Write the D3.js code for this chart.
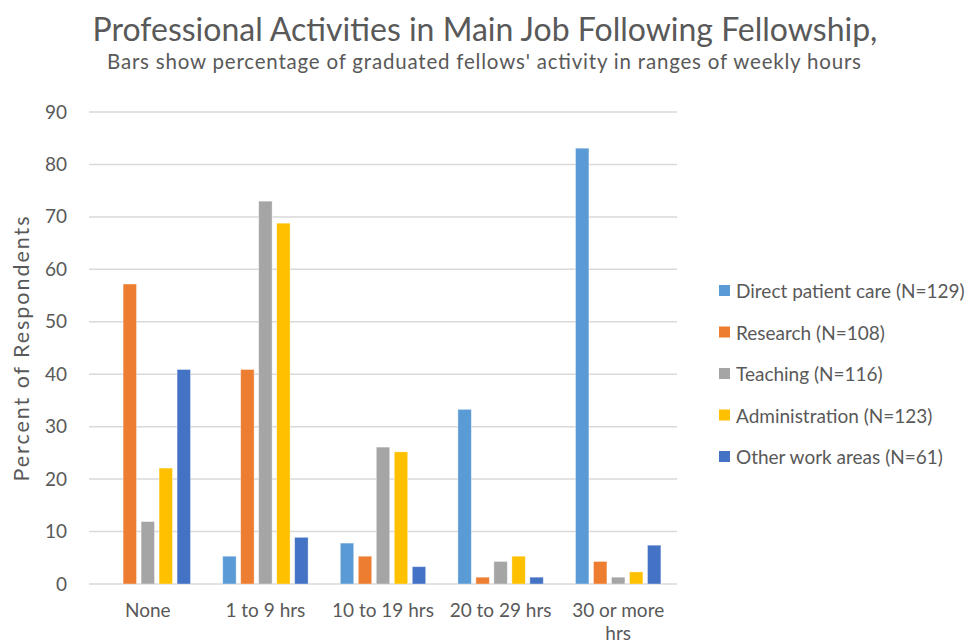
<!DOCTYPE html>
<html>
<head>
<meta charset="utf-8">
<script src="https://cdn.jsdelivr.net/npm/d3@7"></script>
<style>
  html, body { margin: 0; padding: 0; background: #fff; }
  svg { display: block; font-family: Lato, "Open Sans", sans-serif; }
</style>
</head>
<body>
<svg id="chart" width="972" height="644"></svg>
<script>
// Weekly-hour ranges along the x axis
const categories = ["None", "1 to 9 hrs", "10 to 19 hrs", "20 to 29 hrs", "30 or more hrs"];

// Series names, as shown in the legend
const seriesNames = [
  "Direct patient care (N=129)",
  "Research (N=108)",
  "Teaching (N=116)",
  "Administration (N=123)",
  "Other work areas (N=61)"
];

// Percent of respondents per hour range, one array per activity
const directPatientCare = [0, 5.3, 7.8, 33.3, 83.1];
const research          = [57.2, 40.9, 5.3, 1.3, 4.3];
const teaching          = [11.9, 73.0, 26.1, 4.3, 1.3];
const administration    = [22.1, 68.8, 25.2, 5.3, 2.3];
const otherWorkAreas    = [40.9, 8.9, 3.3, 1.3, 7.4];

const yTicks = [0, 10, 20, 30, 40, 50, 60, 70, 80, 90];

const seriesValues = [directPatientCare, research, teaching, administration, otherWorkAreas];
const colors = ["#5B9BD5", "#ED7D31", "#A5A5A5", "#FFC000", "#4472C4"];

const svg = d3.select("#chart");
const textColor = "#595959";

// Plot area
const plotLeft = 89, plotRight = 677, plotTop = 112, plotBottom = 584;

const x0 = d3.scaleBand().domain(categories).range([plotLeft, plotRight])
  .paddingInner(0.274).paddingOuter(0.137);
const x1 = d3.scaleBand().domain(d3.range(seriesNames.length)).range([0, x0.bandwidth()])
  .paddingInner(0.255).paddingOuter(0);
const y = d3.scaleLinear().domain([0, 90]).range([plotBottom, plotTop]);

// Title and subtitle
svg.append("text")
  .attr("x", 485).attr("y", 41)
  .attr("text-anchor", "middle")
  .attr("font-size", 32)
  .attr("fill", textColor)
  .text("Professional Activities in Main Job Following Fellowship,");
svg.append("text")
  .attr("x", 484).attr("y", 69)
  .attr("text-anchor", "middle")
  .attr("font-size", 20.5)
  .attr("textLength", 754)
  .attr("lengthAdjust", "spacing")
  .attr("fill", textColor)
  .text("Bars show percentage of graduated fellows' activity in ranges of weekly hours");

// Horizontal gridlines
svg.append("g")
  .selectAll("line")
  .data(yTicks)
  .join("line")
  .attr("x1", plotLeft).attr("x2", plotRight)
  .attr("y1", d => y(d)).attr("y2", d => y(d))
  .attr("stroke", "#D9D9D9")
  .attr("stroke-width", 1.5);

// Y axis tick labels
const yAxis = d3.axisLeft(y).tickValues(yTicks).tickSize(0).tickPadding(0);
const yg = svg.append("g").attr("transform", `translate(${plotLeft - 22},0)`).call(yAxis);
yg.select(".domain").remove();
yg.selectAll("text")
  .attr("font-size", 19)
  .attr("font-family", "Lato, 'Open Sans', sans-serif")
  .attr("fill", textColor);

// Y axis title
svg.append("text")
  .attr("transform", `translate(29,349) rotate(-90)`)
  .attr("text-anchor", "middle")
  .attr("font-size", 21.5)
  .attr("textLength", 265)
  .attr("lengthAdjust", "spacing")
  .attr("fill", textColor)
  .text("Percent of Respondents");

// Bars grouped by hour range
const groups = svg.append("g")
  .selectAll("g")
  .data(categories)
  .join("g")
  .attr("transform", d => `translate(${x0(d)},0)`);

groups.selectAll("rect")
  .data((c, ci) => seriesValues.map((vals, si) => ({ si, v: vals[ci] })))
  .join("rect")
  .attr("x", d => x1(d.si))
  .attr("width", x1.bandwidth())
  .attr("y", d => y(d.v))
  .attr("height", d => y(0) - y(d.v))
  .attr("fill", d => colors[d.si])
  .attr("stroke", "#ffffff")
  .attr("stroke-opacity", 0.45)
  .attr("stroke-width", 0.8);

// X axis category labels (long label wraps onto two lines)
const xLabelLines = { "30 or more hrs": ["30 or more", "hrs"] };
const xl = svg.append("g")
  .selectAll("text")
  .data(categories)
  .join("text")
  .attr("x", d => x0(d) + x0.bandwidth() / 2)
  .attr("y", 617)
  .attr("text-anchor", "middle")
  .attr("font-size", 19)
  .attr("fill", textColor);
xl.each(function(d) {
  const lines = xLabelLines[d] || [d];
  d3.select(this).selectAll("tspan")
    .data(lines)
    .join("tspan")
    .attr("x", x0(d) + x0.bandwidth() / 2)
    .attr("dy", (l, i) => i === 0 ? 0 : 23)
    .text(l => l);
});

// Legend
const legend = svg.append("g")
  .selectAll("g")
  .data(seriesNames)
  .join("g")
  .attr("transform", (d, i) => `translate(719,${291 + i * 41.5})`);
legend.append("rect")
  .attr("x", 0).attr("y", -6)
  .attr("width", 11).attr("height", 11)
  .attr("fill", (d, i) => colors[i]);
legend.append("text")
  .attr("x", 17).attr("y", 7)
  .attr("font-size", 19)
  .attr("fill", textColor)
  .text(d => d);
</script>
</body>
</html>
